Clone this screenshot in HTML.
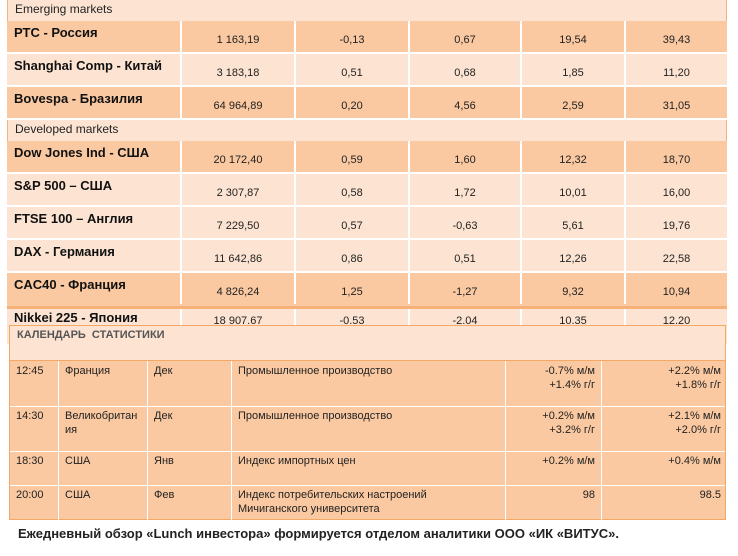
<!DOCTYPE html><html><head><meta charset="utf-8"><style>
body{margin:0;width:738px;height:556px;background:#fff;position:relative;overflow:hidden;font-family:"Liberation Sans",sans-serif;}
.r{position:absolute;left:7px;width:720px;box-sizing:border-box;}
.c{position:absolute;top:0;bottom:0;border-left:2px solid #fff;box-sizing:border-box;font-size:11px;color:#222;text-align:center;}
.n{position:absolute;left:7px;top:4px;font-weight:bold;font-size:13px;color:#111;}
.d{background:#fac9a1;border-bottom:2px solid #fff}
.l{background:#fde4d2;border-bottom:2px solid #fff}
.h{background:#fde4d2;font-size:12px;color:#222;padding:2px 7px;border-left:1px solid #f5b27c;border-right:1px solid #f5b27c}
.cal{position:absolute;left:9px;top:325px;width:717px;height:195px;border:1px solid #f4a865;box-sizing:border-box;background:#fac9a1;font-size:11px;color:#222}
.cal .hd{position:absolute;left:0;top:0;right:0;height:35px;background:#fde4d2;border-bottom:1px solid #f4a865;font-weight:bold;color:#555;padding:3px 7px;box-sizing:border-box;font-size:11px}
.cr{position:absolute;left:0;right:0;border-bottom:1px solid #fff;}
.cc{position:absolute;top:0;bottom:0;border-left:1px solid #fff;padding:3px 6px;box-sizing:border-box;line-height:14px}
</style></head><body>
<div class="r h" style="top:0;height:21px">Emerging markets</div>
<div id="t"></div>
<div class="r h" style="top:120px;height:21px">Developed markets</div>
<div class="cal">
<div class="hd">КАЛЕНДАРЬ&nbsp; СТАТИСТИКИ</div>
<div class="cr" style="top:35px;height:45px"><div class="cc" style="left:0;width:48px;border:0">12:45</div><div class="cc" style="left:48px;width:89px">Франция</div><div class="cc" style="left:137px;width:84px">Дек</div><div class="cc" style="left:221px;width:274px">Промышленное производство</div><div class="cc" style="left:495px;width:96px;text-align:right">-0.7% м/м<br>+1.4% г/г</div><div class="cc" style="left:591px;width:126px;text-align:right">+2.2% м/м<br>+1.8% г/г</div></div>
<div class="cr" style="top:80px;height:45px"><div class="cc" style="left:0;width:48px;border:0">14:30</div><div class="cc" style="left:48px;width:89px">Великобритан<br>ия</div><div class="cc" style="left:137px;width:84px">Дек</div><div class="cc" style="left:221px;width:274px">Промышленное производство</div><div class="cc" style="left:495px;width:96px;text-align:right">+0.2% м/м<br>+3.2% г/г</div><div class="cc" style="left:591px;width:126px;text-align:right">+2.1% м/м<br>+2.0% г/г</div></div>
<div class="cr" style="top:125px;height:34px"><div class="cc" style="left:0;width:48px;border:0">18:30</div><div class="cc" style="left:48px;width:89px">США</div><div class="cc" style="left:137px;width:84px">Янв</div><div class="cc" style="left:221px;width:274px">Индекс импортных цен</div><div class="cc" style="left:495px;width:96px;text-align:right">+0.2% м/м</div><div class="cc" style="left:591px;width:126px;text-align:right">+0.4% м/м</div></div>
<div class="cr" style="top:159px;height:35px;border:0"><div class="cc" style="left:0;width:48px;border:0">20:00</div><div class="cc" style="left:48px;width:89px">США</div><div class="cc" style="left:137px;width:84px">Фев</div><div class="cc" style="left:221px;width:274px">Индекс потребительских настроений<br>Мичиганского университета</div><div class="cc" style="left:495px;width:96px;text-align:right">98</div><div class="cc" style="left:591px;width:126px;text-align:right">98.5</div></div>
</div>
<div style="position:absolute;left:18px;top:526px;font-weight:bold;font-size:13px;color:#222">Ежедневный обзор «Lunch инвестора» формируется отделом аналитики ООО «ИК «ВИТУС».</div>
<script>
var rows=[[21,'d','РТС - Россия','1 163,19','-0,13','0,67','19,54','39,43'],[54,'l','Shanghai Comp - Китай','3 183,18','0,51','0,68','1,85','11,20'],[87,'d','Bovespa - Бразилия','64 964,89','0,20','4,56','2,59','31,05'],[141,'d','Dow Jones Ind - США','20 172,40','0,59','1,60','12,32','18,70'],[174,'l','S&P 500  – США','2 307,87','0,58','1,72','10,01','16,00'],[207,'l','FTSE 100  – Англия','7 229,50','0,57','-0,63','5,61','19,76'],[240,'l','DAX - Германия','11 642,86','0,86','0,51','12,26','22,58'],[273,'d','CAC40 - Франция','4 826,24','1,25','-1,27','9,32','10,94'],[306,'l','Nikkei 225 - Япония','18 907.67','-0.53','-2.04','10.35','12.20']];
var cols=[[173,114],[287,114],[401,112],[513,104],[617,103]];var h='';
rows.forEach(function(r){var nk=r[0]==306;var ht=nk?40:33;var st='top:'+r[0]+'px;height:'+ht+'px;'+(nk?'border-top:3px solid #f7b27a;':'')+(r[0]==273?'border-bottom:2px solid #fac9a1;':'');
h+='<div class="r '+r[1]+'" style="'+st+'"><div class="n"'+(nk?' style="top:1px"':'')+'>'+r[2]+'</div>';
for(var i=0;i<5;i++)h+='<div class="c" style="left:'+cols[i][0]+'px;width:'+cols[i][1]+'px"><span style="position:absolute;left:0;right:0;top:'+(nk?6:13)+'px;text-align:center">'+r[3+i]+'</span></div>';
h+='</div>';});
document.getElementById('t').innerHTML=h;
</script>
</body></html>
